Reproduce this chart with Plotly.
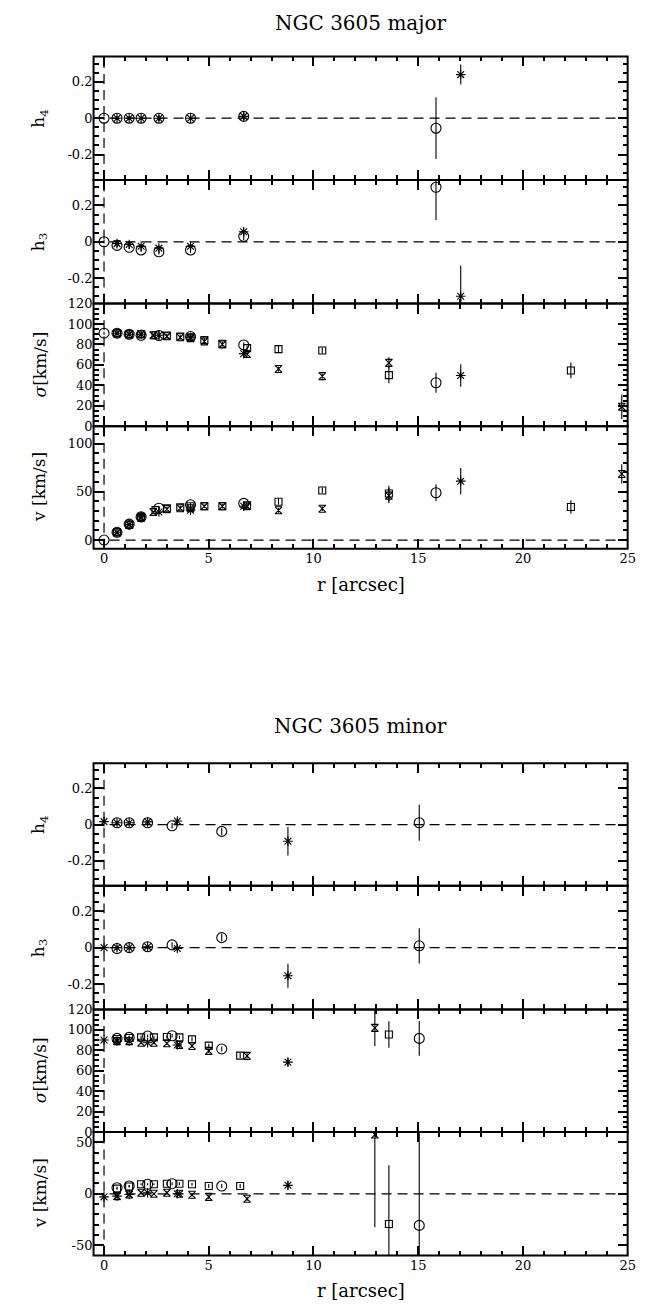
import plotly.graph_objects as go

# ---------------- NGC 3605, major axis ----------------
# open circles
maj_c_r = [0.0, 0.62, 1.2, 1.77, 2.62, 4.13, 6.67, 15.85]
maj_c_v = [0.0, 8.0, 16.5, 24.0, 33.0, 36.5, 38.0, 49.0]
maj_c_v_err = [1.0, 1.0, 1.0, 1.0, 1.5, 1.5, 2.0, 8.7]
maj_c_s = [91.0, 91.0, 90.0, 89.0, 88.7, 87.7, 79.5, 42.5]
maj_c_s_err = [1.5, 1.5, 1.5, 1.5, 1.5, 2.0, 2.5, 9.7]
maj_c_h3 = [0.0, -0.02, -0.03, -0.045, -0.055, -0.045, 0.03, 0.30]
maj_c_h3_err = [0.01, 0.01, 0.01, 0.01, 0.015, 0.015, 0.02, 0.18]
maj_c_h4 = [0.0, 0.0, 0.0, 0.0, 0.0, 0.0, 0.01, -0.055]
maj_c_h4_err = [0.01, 0.01, 0.01, 0.01, 0.015, 0.015, 0.02, 0.17]

# asterisks
maj_a_r = [0.62, 1.2, 1.77, 2.62, 4.13, 6.67, 17.03]
maj_a_v = [8.0, 16.0, 24.0, 29.0, 31.0, 35.0, 61.0]
maj_a_v_err = [1.0, 1.0, 1.0, 1.5, 1.5, 2.0, 13.7]
maj_a_s = [91.0, 90.0, 90.0, 89.0, 87.0, 71.0, 49.6]
maj_a_s_err = [1.5, 1.5, 1.5, 1.5, 2.0, 2.5, 11.0]
maj_a_h3 = [-0.01, -0.015, -0.025, -0.035, -0.025, 0.055, -0.30]
maj_a_h3_err = [0.01, 0.01, 0.01, 0.015, 0.015, 0.02, 0.17]
maj_a_h4 = [0.0, 0.0, 0.0, 0.0, 0.0, 0.01, 0.24]
maj_a_h4_err = [0.01, 0.01, 0.01, 0.015, 0.015, 0.02, 0.055]

# open squares
maj_s_r = [0.62, 1.2, 1.77, 2.46, 3.0, 3.64, 4.13, 4.79, 5.65, 6.83, 8.33, 10.42, 13.6, 22.29]
maj_s_v = [8.0, 16.0, 24.0, 31.0, 33.0, 34.0, 35.0, 35.0, 35.0, 36.0, 39.7, 51.4, 48.3, 34.2]
maj_s_v_err = [1.0, 1.0, 1.0, 1.0, 1.5, 1.5, 1.5, 1.5, 2.0, 2.0, 3.0, 3.0, 8.0, 7.0]
maj_s_s = [91.0, 90.0, 90.0, 89.0, 88.7, 87.7, 87.0, 84.4, 80.6, 76.4, 75.4, 74.1, 50.0, 54.5]
maj_s_s_err = [1.5, 1.5, 1.5, 1.5, 1.5, 1.5, 2.0, 2.0, 2.0, 2.5, 3.0, 3.0, 8.0, 7.7]

# open hourglasses
maj_h_r = [0.62, 1.2, 1.77, 2.35, 3.0, 3.64, 4.13, 4.79, 5.65, 6.83, 8.33, 10.42, 13.6, 24.72]
maj_h_v = [8.0, 16.0, 23.0, 29.0, 32.0, 33.0, 33.0, 35.0, 35.0, 35.0, 30.8, 32.5, 46.0, 68.5]
maj_h_v_err = [1.0, 1.0, 1.0, 1.0, 1.5, 1.5, 1.5, 1.5, 2.0, 2.0, 2.5, 2.5, 8.0, 10.0]
maj_h_s = [91.0, 90.0, 90.0, 89.0, 88.0, 87.0, 86.0, 83.0, 80.0, 70.6, 56.0, 49.0, 61.9, 19.0]
maj_h_s_err = [1.5, 1.5, 1.5, 1.5, 1.5, 1.5, 2.0, 2.0, 2.0, 2.5, 2.5, 2.5, 5.5, 12.0]

# ---------------- NGC 3605, minor axis ----------------
min_c_r = [0.62, 1.2, 2.08, 3.25, 5.62, 15.05]
min_c_v = [5.9, 7.5, 9.2, 9.8, 7.5, -30.7]
min_c_v_err = [1.0, 1.0, 1.0, 1.5, 2.0, 95.0]
min_c_s = [91.6, 92.6, 93.9, 94.2, 81.3, 91.6]
min_c_s_err = [1.5, 1.5, 1.5, 2.0, 2.5, 17.0]
min_c_h3 = [-0.005, 0.0, 0.005, 0.015, 0.055, 0.01]
min_c_h3_err = [0.01, 0.01, 0.01, 0.015, 0.02, 0.097]
min_c_h4 = [0.01, 0.01, 0.01, -0.007, -0.038, 0.01]
min_c_h4_err = [0.01, 0.01, 0.01, 0.015, 0.02, 0.10]

min_a_r = [0.0, 0.62, 1.2, 2.08, 3.5, 8.78]
min_a_v = [-3.0, -2.3, -0.7, 1.0, 0.0, 8.2]
min_a_v_err = [1.0, 1.0, 1.0, 1.0, 1.5, 4.0]
min_a_s = [90.0, 89.0, 89.0, 87.4, 85.2, 68.4]
min_a_s_err = [1.5, 1.5, 1.5, 1.5, 2.0, 4.0]
min_a_h3 = [0.0, 0.0, 0.0, 0.005, -0.005, -0.155]
min_a_h3_err = [0.01, 0.01, 0.01, 0.01, 0.015, 0.066]
min_a_h4 = [0.016, 0.01, 0.01, 0.015, 0.02, -0.093]
min_a_h4_err = [0.01, 0.01, 0.01, 0.01, 0.015, 0.079]

min_s_r = [0.62, 1.2, 1.77, 2.38, 3.0, 3.6, 4.2, 5.0, 6.5, 13.6]
min_s_v = [5.0, 7.0, 9.2, 9.2, 9.8, 9.8, 9.2, 7.5, 7.5, -29.4]
min_s_v_err = [1.0, 1.0, 1.0, 1.0, 1.5, 1.5, 1.5, 2.0, 2.0, 57.0]
min_s_s = [91.0, 92.0, 92.6, 92.6, 93.0, 92.6, 90.7, 84.5, 74.8, 95.5]
min_s_s_err = [1.5, 1.5, 1.5, 1.5, 1.5, 1.5, 2.0, 2.0, 2.5, 13.0]

min_h_r = [0.62, 1.2, 1.77, 2.38, 3.0, 3.6, 4.2, 5.0, 6.83, 12.93]
min_h_v = [-2.3, -0.7, 1.0, 0.0, 1.0, 0.0, -1.0, -3.0, -4.9, 57.5]
min_h_v_err = [1.0, 1.0, 1.0, 1.0, 1.5, 1.5, 1.5, 2.0, 2.0, 90.0]
min_h_s = [89.0, 89.0, 87.4, 87.4, 86.8, 85.2, 84.2, 79.4, 74.5, 101.9]
min_h_s_err = [1.5, 1.5, 1.5, 1.5, 1.5, 1.5, 2.0, 2.0, 2.5, 17.7]

# tick labels
x_ticks = [0, 5, 10, 15, 20, 25]
h_ticks = [-0.2, 0.0, 0.2]
h_ticktext = ["-0.2", "0", "0.2"]
s_ticks = [0, 20, 40, 60, 80, 100, 120]
v_major_ticks = [0, 50, 100]
v_minor_ticks = [-50, 0, 50]
v_minor_ticktext = ["-50", "0", "50"]

# ---------------- page geometry ----------------
W, H = 664, 1312
X_LEFT, X_RIGHT = 94.7, 635.3
GROUP_EDGES = [[50, 175, 300, 424, 548], [765, 889, 1014, 1138, 1263]]
TITLE_Y = [16, 727]
XLABEL_Y = [584, 1298]
FONT = "DejaVu Serif"

fig = go.Figure()

MARKERS = {
    "circle": dict(symbol="circle-open", size=10),
    "aster": dict(symbol="asterisk-open", size=8),
    "square": dict(symbol="square-open", size=7),
    "hour": dict(symbol="hourglass-open", size=7),
}


def ax_id(letter, n):
    return letter if n == 1 else f"{letter}{n}"


def add_points(n, kind, r, y, err):
    m = MARKERS[kind]
    fig.add_trace(go.Scatter(
        x=r, y=y, mode="markers",
        marker=dict(symbol=m["symbol"], size=m["size"], color="black",
                    line=dict(color="black", width=1.1)),
        error_y=dict(type="data", array=err, visible=True, color="black",
                     thickness=1.1, width=0),
        xaxis=ax_id("x", n), yaxis=ax_id("y", n), showlegend=False, hoverinfo="skip",
        cliponaxis=True,
    ))


groups = [
    dict(
        h4=[("circle", maj_c_r, maj_c_h4, maj_c_h4_err), ("aster", maj_a_r, maj_a_h4, maj_a_h4_err)],
        h3=[("circle", maj_c_r, maj_c_h3, maj_c_h3_err), ("aster", maj_a_r, maj_a_h3, maj_a_h3_err)],
        s=[("square", maj_s_r, maj_s_s, maj_s_s_err), ("hour", maj_h_r, maj_h_s, maj_h_s_err),
           ("circle", maj_c_r, maj_c_s, maj_c_s_err), ("aster", maj_a_r, maj_a_s, maj_a_s_err)],
        v=[("square", maj_s_r, maj_s_v, maj_s_v_err), ("hour", maj_h_r, maj_h_v, maj_h_v_err),
           ("circle", maj_c_r, maj_c_v, maj_c_v_err), ("aster", maj_a_r, maj_a_v, maj_a_v_err)],
        vrange=[-9, 118], vticks=v_major_ticks, vtext=[str(t) for t in v_major_ticks],
        title="NGC 3605 major",
    ),
    dict(
        h4=[("circle", min_c_r, min_c_h4, min_c_h4_err), ("aster", min_a_r, min_a_h4, min_a_h4_err)],
        h3=[("circle", min_c_r, min_c_h3, min_c_h3_err), ("aster", min_a_r, min_a_h3, min_a_h3_err)],
        s=[("square", min_s_r, min_s_s, min_s_s_err), ("hour", min_h_r, min_h_s, min_h_s_err),
           ("circle", min_c_r, min_c_s, min_c_s_err), ("aster", min_a_r, min_a_s, min_a_s_err)],
        v=[("square", min_s_r, min_s_v, min_s_v_err), ("hour", min_h_r, min_h_v, min_h_v_err),
           ("circle", min_c_r, min_c_v, min_c_v_err), ("aster", min_a_r, min_a_v, min_a_v_err)],
        vrange=[-60, 60], vticks=v_minor_ticks, vtext=v_minor_ticktext,
        title="NGC 3605 minor",
    ),
]

layout = dict(
    width=W, height=H, margin=dict(l=0, r=0, t=0, b=0),
    paper_bgcolor="white", plot_bgcolor="white", showlegend=False,
    font=dict(family=FONT, size=13, color="black"),
)
shapes = []
annotations = []

# frames are drawn as rectangles so neighbouring panels share one border line
axis_common = dict(
    showline=False, mirror="allticks",
    ticks="inside", tickcolor="black", tickwidth=1.5, showgrid=False, zeroline=False,
    tickfont=dict(family=FONT, size=13, color="black"),
)


def px_y(p):
    return 1 - p / H


n = 0
for gi, g in enumerate(groups):
    edges = GROUP_EDGES[gi]
    panels = [
        ("h4", [-0.34, 0.34], h_ticks, h_ticktext, 0.05, True, "h<sub>4</sub>"),
        ("h3", [-0.34, 0.34], h_ticks, h_ticktext, 0.05, True, "h<sub>3</sub>"),
        ("s", [0, 120], s_ticks, [str(t) for t in s_ticks], 5, False, "<i>σ</i>[km/s]"),
        ("v", g["vrange"], g["vticks"], g["vtext"], 10, True, "v [km/s]"),
    ]
    for pi, (key, yr, tv, tt, mdt, zero_line, ytitle) in enumerate(panels):
        n += 1
        top, bot = edges[pi], edges[pi + 1]
        last = pi == 3
        xa, ya = ax_id("x", n), ax_id("y", n)
        for kind, r, y, err in g[key]:
            add_points(n, kind, r, y, err)
        layout["xaxis" if n == 1 else f"xaxis{n}"] = dict(
            axis_common, domain=[X_LEFT / W, X_RIGHT / W], range=[-0.5, 25],
            anchor=ya, tickmode="array", tickvals=x_ticks,
            ticktext=[str(t) for t in x_ticks], showticklabels=last, ticklen=10,
            minor=dict(ticks="inside", dtick=1, tick0=0, ticklen=5, tickcolor="black", tickwidth=1.5),
        )
        layout["yaxis" if n == 1 else f"yaxis{n}"] = dict(
            axis_common, domain=[px_y(bot), px_y(top)], range=yr, anchor=xa,
            tickmode="array", tickvals=tv, ticktext=tt, ticklen=10,
            minor=dict(ticks="inside", dtick=mdt, tick0=0, ticklen=5, tickcolor="black", tickwidth=1.5),
        )
        shapes.append(dict(type="rect", xref=f"{xa} domain", yref=f"{ya} domain",
                           x0=0, x1=1, y0=0, y1=1, line=dict(color="black", width=2)))
        # dashed reference lines: r = 0 always, and zero level where relevant
        shapes.append(dict(type="line", xref=xa, yref=f"{ya} domain", x0=0, x1=0, y0=0, y1=1,
                           line=dict(color="black", width=1.2, dash="10px,6px")))
        if zero_line:
            shapes.append(dict(type="line", xref=f"{xa} domain", yref=ya, x0=0, x1=1, y0=0, y1=0,
                               line=dict(color="black", width=1.2, dash="10px,6px")))
        annotations.append(dict(
            text=ytitle, xref="paper", yref="paper", x=40 / W, y=px_y((top + bot) / 2),
            textangle=-90, showarrow=False, xanchor="center", yanchor="middle",
            font=dict(family=FONT, size=17, color="black"),
        ))
    annotations.append(dict(
        text=g["title"], xref="paper", yref="paper", x=365 / W, y=px_y(TITLE_Y[gi]),
        showarrow=False, xanchor="center", yanchor="middle",
        font=dict(family=FONT, size=20, color="black"),
    ))
    annotations.append(dict(
        text="r [arcsec]", xref="paper", yref="paper", x=365 / W, y=px_y(XLABEL_Y[gi]),
        showarrow=False, xanchor="center", yanchor="middle",
        font=dict(family=FONT, size=18, color="black"),
    ))

layout["shapes"] = shapes
layout["annotations"] = annotations
fig.update_layout(**layout)
fig.write_html("out.html")
